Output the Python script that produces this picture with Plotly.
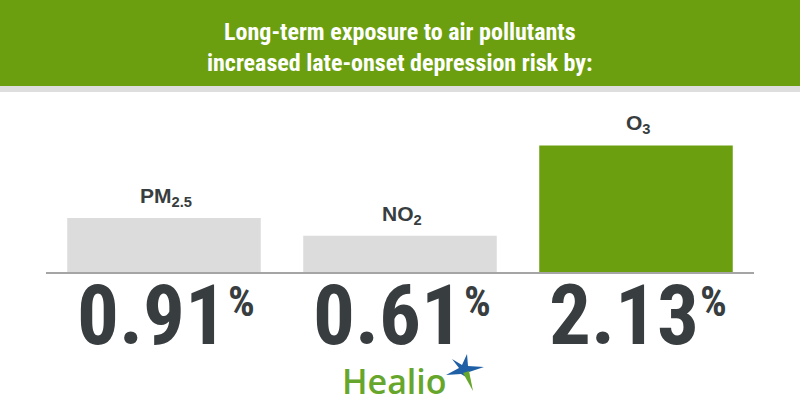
import plotly.graph_objects as go

# ---- data ----
pollutants = ["PM2.5", "NO2", "O3"]
pollutant_labels = ["PM<sub>2.5</sub>", "NO<sub>2</sub>", "O<sub>3</sub>"]
risk_increase_pct = [0.91, 0.61, 2.13]
title_lines = ["Long-term exposure to air pollutants", "increased late-onset depression risk by:"]

# ---- styles ----
GREEN = "#6c9f10"
GREY_BAR = "#dcdcdc"
DARK = "#383d40"
LOGO_GREEN = "#66a62c"
LOGO_BLUE = "#1f5fa6"
bar_colors = [GREY_BAR, GREY_BAR, GREEN]

W, H = 800, 420

fig = go.Figure()
fig.add_trace(go.Bar(
    x=pollutants, y=risk_increase_pct,
    marker=dict(color=bar_colors, line=dict(width=0)),
    hoverinfo="skip", showlegend=False,
))

annotations = []
NUM_FONT = "Roboto Condensed, Roboto, sans-serif"
for cat, lab, v in zip(pollutants, pollutant_labels, risk_increase_pct):
    annotations.append(dict(
        x=cat, y=v, xref="x", yref="y", text=lab, showarrow=False,
        yanchor="bottom", xanchor="center", yshift=6, xshift=2,
        font=dict(family="Liberation Sans, Arial, sans-serif", size=21, color=DARK, weight="bold"),
    ))
    annotations.append(dict(
        x=cat, y=0, xref="x", yref="y", text=f"{v:.2f}",
        showarrow=False, yanchor="top", xanchor="right", yshift=7, xshift=65,
        font=dict(family=NUM_FONT, size=83, color=DARK, weight="bold"),
    ))
    annotations.append(dict(
        x=cat, y=0, xref="x", yref="y", text="%",
        showarrow=False, yanchor="top", xanchor="left", yshift=-3, xshift=62,
        font=dict(family=NUM_FONT, size=42, color=DARK, weight="bold"),
    ))

annotations.append(dict(
    x=0.5, y=1 - 47 / H, xref="paper", yref="paper",
    text="<br>".join(title_lines), showarrow=False,
    xanchor="center", yanchor="middle",
    font=dict(family="Roboto Condensed, Roboto, sans-serif", size=24, color="white", weight="bold"),
))

annotations.append(dict(
    x=394 / W, y=1 - 381 / H, xref="paper", yref="paper",
    text="Healio", showarrow=False, xanchor="center", yanchor="middle",
    font=dict(family="Open Sans, sans-serif", size=34, color=LOGO_GREEN, weight=600),
))

shapes = [
    dict(type="rect", xref="paper", yref="paper", x0=0, x1=1, y0=1 - 86 / H, y1=1,
         fillcolor=GREEN, line=dict(width=0), layer="below"),
    dict(type="rect", xref="paper", yref="paper", x0=0, x1=1, y0=1 - 92 / H, y1=1 - 86 / H,
         fillcolor="#dedede", line=dict(width=0), layer="below"),
]

def px(x, y):
    return f"{x / W:.5f},{1 - y / H:.5f}"

star = "M " + " L ".join([
    px(446, 375), px(459, 368), px(452, 359), px(462, 365), px(467, 354),
    px(468, 366), px(484, 367), px(469, 372), px(466, 377), px(461, 374),
]) + " Z"
shapes.append(dict(type="path", xref="paper", yref="paper", path=star,
                   fillcolor=LOGO_BLUE, line=dict(width=0)))
ray = "M " + " L ".join([px(463, 373), px(469, 371), px(473, 391)]) + " Z"
shapes.append(dict(type="path", xref="paper", yref="paper", path=ray,
                   fillcolor=LOGO_GREEN, line=dict(width=0)))

fig.update_layout(
    width=W, height=H,
    margin=dict(l=0, r=0, t=0, b=0),
    paper_bgcolor="white", plot_bgcolor="white",
    bargap=0.18,
    xaxis=dict(domain=[46 / W, 754 / W], showline=True, linecolor="#a5a5a5", linewidth=2,
               showticklabels=False, ticks="", showgrid=False, zeroline=False, fixedrange=True),
    yaxis=dict(domain=[148 / H, 328 / H], range=[0, 3.03], visible=False, fixedrange=True),
    annotations=annotations,
    shapes=shapes,
)

fig.write_html("out.html")
